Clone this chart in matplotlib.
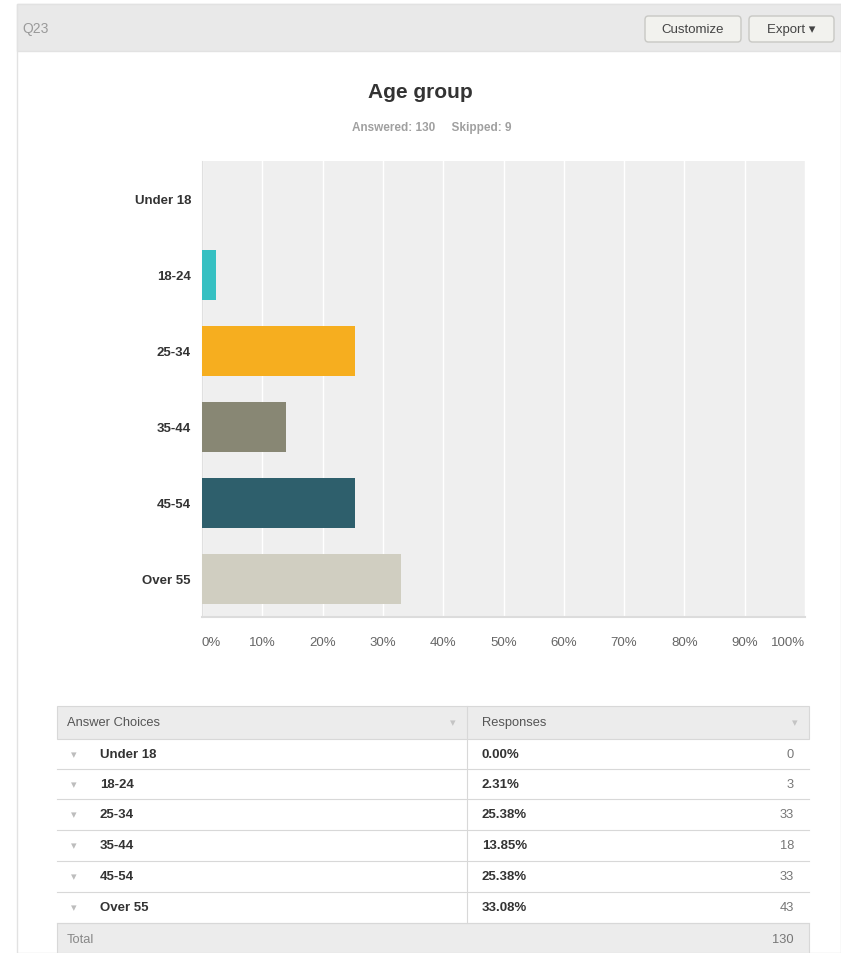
import matplotlib
matplotlib.use("Agg")
import matplotlib.pyplot as plt
from matplotlib.patches import Rectangle, FancyBboxPatch

plt.rcParams['font.family'] = ['Liberation Sans', 'DejaVu Sans']

# Survey data
question_id = "Q23"
title = "Age group"
answered = 130
skipped = 9
categories = ["Under 18", "18-24", "25-34", "35-44", "45-54", "Over 55"]
percents = [0.00, 2.31, 25.38, 13.85, 25.38, 33.08]
counts = [0, 3, 33, 18, 33, 43]
total = 130
bar_colors = ["#3fc6c6", "#36c0c2", "#f6ae1f", "#888774", "#2e5f6c", "#d0cec1"]
x_ticks = [0, 10, 20, 30, 40, 50, 60, 70, 80, 90, 100]
x_tick_labels = [f"{t}%" for t in x_ticks]

W, H = 841, 954
fig = plt.figure(figsize=(W / 100, H / 100), dpi=100)
fig.patch.set_facecolor("white")


def fx(px):
    return px / W


def fy(py):
    return 1 - py / H


def rect(x0, y0, x1, y1, **kw):
    fig.patches.append(Rectangle((fx(x0), fy(y1)), fx(x1) - fx(x0), fy(y0) - fy(y1),
                                 transform=fig.transFigure, **kw))


def text(x, y, s, **kw):
    fig.text(fx(x), fy(y), s, **kw)


# Panel frame and header strip
rect(17, 5, 841, 954, facecolor="white", edgecolor="#e2e2e2", linewidth=1.0)
rect(17, 5, 841, 52, facecolor="#e9e9e9", edgecolor="#e2e2e2", linewidth=1.0)
text(22, 29, question_id, fontsize=10, color="#9a9a9a", va="center", ha="left")

# Header buttons
for x0, x1, label in [(645, 741, "Customize"), (749, 834, "Export \u25be")]:
    fig.patches.append(FancyBboxPatch((fx(x0), fy(43)), fx(x1) - fx(x0), fy(17) - fy(43),
                                      boxstyle="round,pad=0,rounding_size=0.004",
                                      transform=fig.transFigure, facecolor="#f2f2ee",
                                      edgecolor="#c8c8c4", linewidth=1.0))
    text((x0 + x1) / 2, 30, label, fontsize=9.5, color="#444444", ha="center", va="center")

# Title and subtitle
text(420, 93, title, fontsize=15, fontweight="bold", color="#333333", ha="center", va="center")
text(432, 128, f"Answered: {answered}     Skipped: {skipped}", fontsize=8.5,
     fontweight="bold", color="#a0a0a0", ha="center", va="center")

# Bar chart
ax = fig.add_axes([fx(202), fy(618), fx(805) - fx(202), fy(162) - fy(618)])
ax.set_zorder(5)
ax.set_facecolor("#efefef")
y_pos = list(range(len(categories)))
ax.barh(y_pos, percents, height=0.66, color=bar_colors, zorder=3)
ax.set_xlim(0, 100)
ax.set_ylim(len(categories) - 0.5, -0.5)
ax.set_xticks(x_ticks)
ax.set_xticklabels(x_tick_labels, fontsize=9.5, color="#666666")
# keep the end labels inside the plot width
ax.get_xticklabels()[0].set_horizontalalignment("left")
ax.get_xticklabels()[-1].set_horizontalalignment("right")
ax.set_yticks(y_pos)
ax.set_yticklabels(categories, fontsize=9.5, fontweight="bold", color="#333333")
ax.tick_params(axis="both", length=0)
ax.tick_params(axis="x", pad=14)
ax.tick_params(axis="y", pad=8)
ax.grid(axis="x", color="white", linewidth=1.0, zorder=1)
for side in ["top", "right"]:
    ax.spines[side].set_visible(False)
ax.spines["left"].set_color("#e0e0e0")
ax.spines["bottom"].set_color("#dcdcdc")
ax.spines["bottom"].set_linewidth(1.5)

# Response table
tx0, tx1, col = 57, 809, 467
rect(tx0, 707, tx1, 740, facecolor="#ececec", edgecolor="#d8d8d8", linewidth=0.8)
fig.lines.append(plt.Line2D([fx(col), fx(col)], [fy(707), fy(924)],
                            transform=fig.transFigure, color="#d8d8d8", linewidth=0.8))
text(67, 723, "Answer Choices", fontsize=9.3, color="#555555", va="center")
text(453, 723, "\u25be", fontsize=8, color="#c4c4c4", va="center", ha="center")
text(482, 723, "Responses", fontsize=9.3, color="#555555", va="center")
text(795, 723, "\u25be", fontsize=8, color="#c4c4c4", va="center", ha="center")

row_edges = [740, 770, 800, 831, 862, 893, 924]
for i, cat in enumerate(categories):
    y0, y1 = row_edges[i], row_edges[i + 1]
    yc = (y0 + y1) / 2
    fig.lines.append(plt.Line2D([fx(tx0), fx(tx1)], [fy(y1), fy(y1)],
                                transform=fig.transFigure, color="#d8d8d8", linewidth=0.8))
    text(74, yc, "\u25be", fontsize=8, color="#bdbdbd", va="center", ha="center")
    text(100, yc, cat, fontsize=9.5, fontweight="bold", color="#333333", va="center")
    text(482, yc, f"{percents[i]:.2f}%", fontsize=9.5, fontweight="bold", color="#333333", va="center")
    text(794, yc, str(counts[i]), fontsize=9.3, color="#777777", va="center", ha="right")

rect(tx0, 924, tx1, 954, facecolor="#ececec", edgecolor="#d8d8d8", linewidth=0.8)
text(67, 940, "Total", fontsize=9.3, color="#888888", va="center")
text(794, 940, str(total), fontsize=9.3, color="#777777", va="center", ha="right")

fig.savefig("out.png", dpi=100)
